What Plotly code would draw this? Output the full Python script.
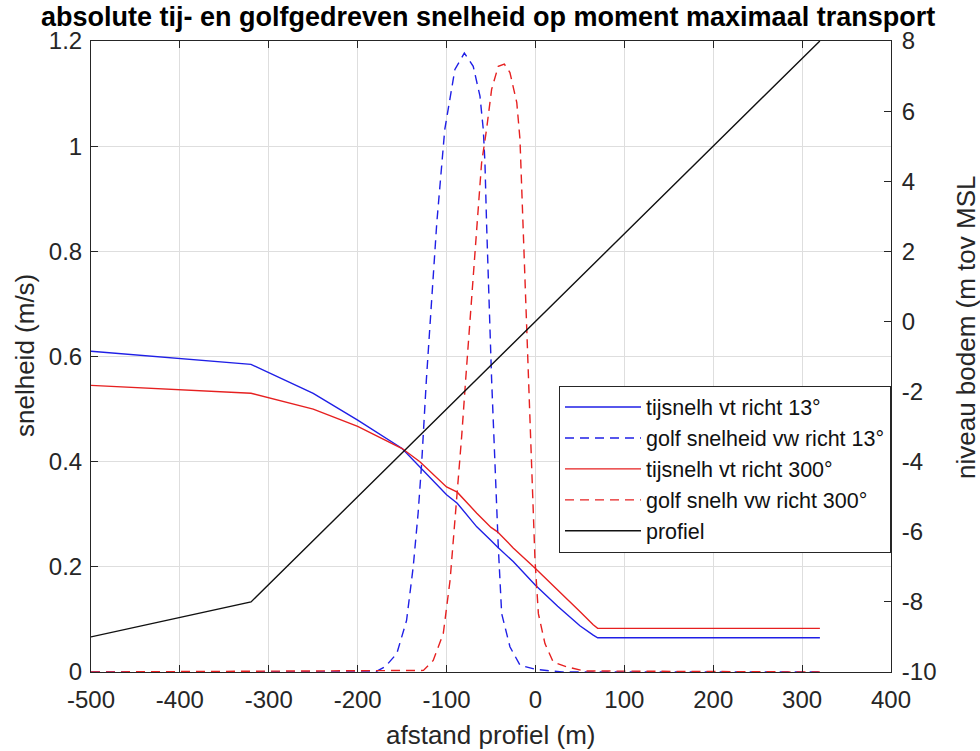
import plotly.graph_objects as go

# Distance along the cross-shore profile (m) and the curves sampled on it
tide_x = [-500, -320, -250, -200, -150, -130, -100, -88, -66, -50, -43, -25, 0, 25, 50, 65, 70, 320]
tide_13 = [0.61, 0.585, 0.53, 0.479, 0.425, 0.39, 0.337, 0.321, 0.276, 0.25, 0.238, 0.21, 0.165, 0.125, 0.088, 0.07, 0.065, 0.065]
tide_300 = [0.545, 0.53, 0.5, 0.467, 0.425, 0.40, 0.352, 0.342, 0.302, 0.275, 0.267, 0.236, 0.197, 0.155, 0.115, 0.09, 0.083, 0.083]

wave13_x = [-500, -180, -169, -156, -145, -137.5, -132, -128, -122.7, -117, -111, -102, -96, -90.6, -80,
            -70, -62.4, -58.7, -56.8, -55, -49.3, -45.6, -41.8, -38, -28.7, -17.4, 0, 30, 320]
wave13_v = [0, 0, 0.01, 0.035, 0.098, 0.2, 0.302, 0.397, 0.556, 0.70, 0.854, 1.032, 1.095, 1.146, 1.177,
            1.152, 1.095, 1.032, 0.968, 0.854, 0.556, 0.397, 0.238, 0.111, 0.048, 0.013, 0.005, 0, 0]

wave300_x = [-500, -126, -115, -103.7, -96, -90.5, -86.8, -83, -78.5, -72, -66, -60.6, -55, -49.3, -41.8,
             -35, -28.7, -21, -17.4, -15.6, -13.7, -8, -4.3, -0.5, 3.3, 10.7, 20, 35, 55, 320]
wave300_v = [0, 0.003, 0.022, 0.073, 0.175, 0.289, 0.365, 0.448, 0.556, 0.71, 0.854, 0.968, 1.032, 1.108, 1.152,
             1.156, 1.14, 1.083, 1.013, 0.924, 0.854, 0.556, 0.365, 0.213, 0.111, 0.054, 0.019, 0.01, 0.002, 0]

profile_x = [-500, -320, 320]
profile_z = [-9, -8, 8]

# Tick values and their labels (hyphen minus, as in the original output)
x_ticks = [-500, -400, -300, -200, -100, 0, 100, 200, 300, 400]
x_labels = ["-500", "-400", "-300", "-200", "-100", "0", "100", "200", "300", "400"]
y_ticks = [0, 0.2, 0.4, 0.6, 0.8, 1.0, 1.2]
y_labels = ["0", "0.2", "0.4", "0.6", "0.8", "1", "1.2"]
z_ticks = [-10, -8, -6, -4, -2, 0, 2, 4, 6, 8]
z_labels = ["-10", "-8", "-6", "-4", "-2", "0", "2", "4", "6", "8"]

names = ["tijsnelh vt richt 13°", "golf snelheid vw richt 13°",
         "tijsnelh vt richt 300°", "golf snelh vw richt 300°", "profiel"]

BLUE = "#1f1fe6"
RED = "#e62020"
AX = "#262626"
FONT = "Liberation Sans, Arial, sans-serif"
LW = 1.4
DASH = "9px,6px"

fig = go.Figure()
fig.add_trace(go.Scatter(x=tide_x, y=tide_13, mode="lines", name=names[0],
                         line=dict(color=BLUE, width=LW)))
fig.add_trace(go.Scatter(x=wave13_x, y=wave13_v, mode="lines", name=names[1],
                         line=dict(color=BLUE, width=LW, dash=DASH)))
fig.add_trace(go.Scatter(x=tide_x, y=tide_300, mode="lines", name=names[2],
                         line=dict(color=RED, width=LW)))
fig.add_trace(go.Scatter(x=wave300_x, y=wave300_v, mode="lines", name=names[3],
                         line=dict(color=RED, width=LW, dash=DASH)))
fig.add_trace(go.Scatter(x=profile_x, y=profile_z, mode="lines", name=names[4], yaxis="y2",
                         line=dict(color="#111111", width=LW)))

L, R, T, B = 91, 89, 41, 79
W, H = 980, 751

fig.update_layout(
    width=W, height=H,
    margin=dict(l=L, r=R, t=T, b=B, pad=0),
    paper_bgcolor="white", plot_bgcolor="white",
    font=dict(family=FONT, size=24, color=AX),
    showlegend=True,
    legend=dict(
        x=1, xanchor="right", y=0.454, yanchor="top",
        bgcolor="white", bordercolor=AX, borderwidth=1,
        font=dict(family=FONT, size=21.5, color="#111111"),
        itemwidth=76, tracegroupgap=0,
    ),
    xaxis=dict(
        range=[-500, 400], tickvals=x_ticks, ticktext=x_labels,
        showgrid=True, gridcolor="#dedede", gridwidth=1,
        showline=True, linecolor=AX, linewidth=1, mirror="ticks",
        ticks="inside", ticklen=7, tickcolor=AX, zeroline=False,
        tickfont=dict(size=24, color=AX), ticklabelstandoff=6,
    ),
    yaxis=dict(
        range=[0, 1.2], tickvals=y_ticks, ticktext=y_labels,
        showgrid=True, gridcolor="#dedede", gridwidth=1,
        showline=True, linecolor=AX, linewidth=1,
        ticks="inside", ticklen=7, tickcolor=AX, zeroline=False,
        tickfont=dict(size=24, color=AX), ticklabelstandoff=3,
    ),
    yaxis2=dict(
        range=[-10, 8], tickvals=z_ticks, ticktext=z_labels,
        overlaying="y", side="right", showgrid=False,
        showline=True, linecolor=AX, linewidth=1,
        ticks="inside", ticklen=7, tickcolor=AX, zeroline=False,
        tickfont=dict(size=24, color=AX), ticklabelstandoff=5,
    ),
)

pw, ph = W - L - R, H - T - B

def px_x(p):
    return (p - L) / pw

def px_y(p):
    return (H - B - p) / ph

label_style = dict(xref="paper", yref="paper", showarrow=False,
                   xanchor="center", yanchor="middle")
annotations = [
    dict(text="<b>absolute tij- en golfgedreven snelheid op moment maximaal transport</b>",
         x=px_x(488), y=px_y(17), font=dict(family=FONT, size=27, color="#000000"), **label_style),
    dict(text="afstand profiel (m)", x=px_x(491), y=px_y(735),
         font=dict(family=FONT, size=26, color=AX), **label_style),
    dict(text="snelheid (m/s)", x=px_x(25), y=px_y(356), textangle=-90,
         font=dict(family=FONT, size=26, color=AX), **label_style),
    dict(text="niveau bodem (m tov MSL", x=px_x(966), y=px_y(328), textangle=-90,
         font=dict(family=FONT, size=26, color=AX), **label_style),
]
fig.update_layout(annotations=annotations)

fig.write_html("out.html")
